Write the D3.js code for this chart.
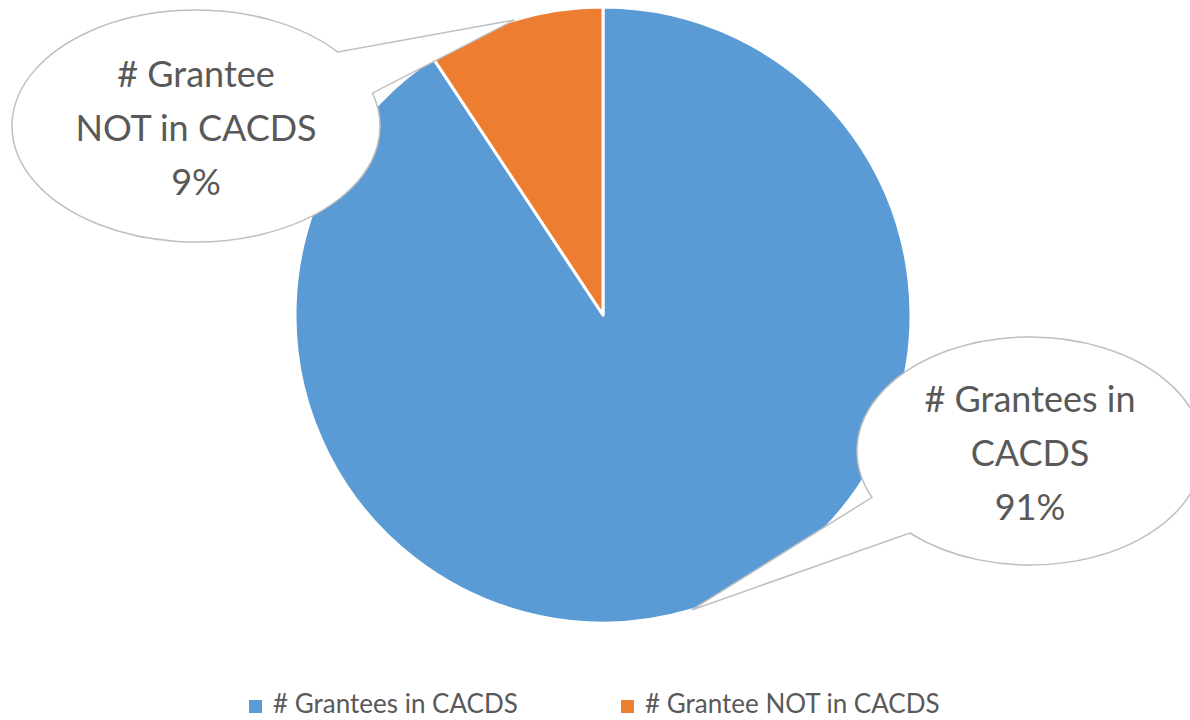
<!DOCTYPE html>
<html>
<head>
<meta charset="utf-8">
<script src="https://cdn.jsdelivr.net/npm/d3@7"></script>
<style>
  body { margin: 0; background: #fff; }
  svg { display: block; font-family: "Lato", "Open Sans", sans-serif; }
</style>
</head>
<body>
<svg id="chart" width="1190" height="720"></svg>
<script>
// data
const categories = ['# Grantees in CACDS', '# Grantee NOT in CACDS'];
const values = [90.7, 9.3];
const calloutLines = [['# Grantees in', 'CACDS'], ['# Grantee', 'NOT in CACDS']];
const colors = ['#5b9bd5', '#ed7d31'];

const svg = d3.select('#chart');
const cx = 603, cy = 315, R = 308;

const pie = d3.pie().sort(null).value(d => d)(values);
const arc = d3.arc().innerRadius(0).outerRadius(R);

const g = svg.append('g').attr('transform', `translate(${cx},${cy})`);
g.selectAll('path').data(pie).enter().append('path')
  .attr('d', arc)
  .attr('fill', (d, i) => colors[i])
  .attr('stroke', '#fff').attr('stroke-width', 3).attr('stroke-linejoin', 'round');

// callout bubbles: ellipse + wedge pointing at the slice edge
const bubbles = [
  { ex: 1030, ey: 451, rx: 173, ry: 114, a1: 134, a2: 156 },
  { ex: 196,  ey: 126, rx: 184, ry: 116, a1: -39.6, a2: -16.5 }
];
const pct = d3.format('.0%');
const total = d3.sum(values);

pie.forEach((p, i) => {
  const b = bubbles[i];
  const mid = (p.startAngle + p.endAngle) / 2;
  const tip = [cx + R * Math.sin(mid), cy - R * Math.cos(mid)];
  const pt = a => [b.ex + b.rx * Math.cos(a * Math.PI / 180), b.ey + b.ry * Math.sin(a * Math.PI / 180)];
  const p1 = pt(b.a1), p2 = pt(b.a2);
  // go p2 -> tip -> p1, then the long way round the ellipse back to p2
  const path = `M${p2[0]},${p2[1]}L${tip[0]},${tip[1]}L${p1[0]},${p1[1]}` +
    `A${b.rx},${b.ry} 0 1 0 ${p2[0]},${p2[1]}Z`;
  svg.append('path').attr('d', path)
    .attr('fill', '#fff').attr('stroke', '#bfbfbf').attr('stroke-width', 1.5);

  const lines = calloutLines[i].concat([pct(values[i] / total)]);
  const t = svg.append('text').attr('text-anchor', 'middle')
    .attr('fill', '#595959').style('font-size', '36px');
  lines.forEach((l, k) => {
    t.append('tspan').attr('x', b.ex).attr('y', b.ey - 39 + k * 54).text(l);
  });
});

// legend
const legendX = [249, 621];
const lg = svg.append('g');
categories.forEach((c, i) => {
  lg.append('rect').attr('x', legendX[i]).attr('y', 700).attr('width', 13).attr('height', 13)
    .attr('fill', colors[i]);
  lg.append('text').attr('x', legendX[i] + 24).attr('y', 713)
    .attr('fill', '#595959').style('font-size', '26px').text(c);
});
</script>
</body>
</html>
